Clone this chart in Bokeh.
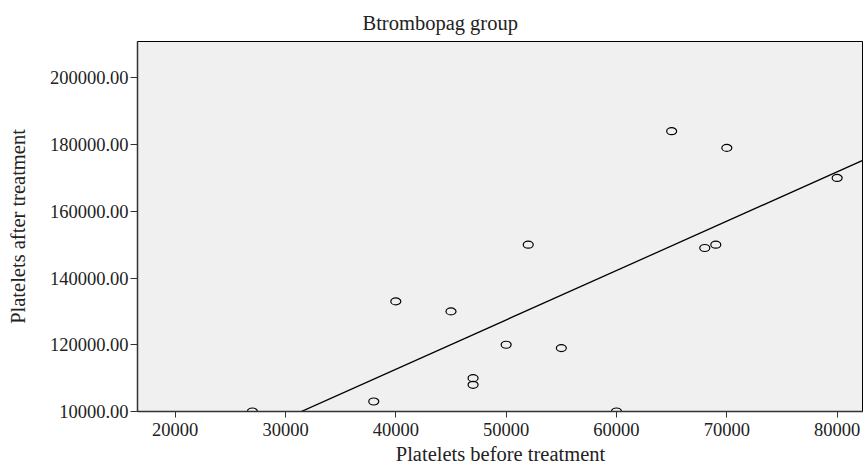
import numpy as np
from bokeh.plotting import figure
from bokeh.models import Range1d, FixedTicker
from bokeh.embed import file_html
from bokeh.resources import INLINE

# Data
before = [27000, 38000, 40000, 45000, 47000, 47000, 50000, 52000, 55000,
          60000, 65000, 68000, 69000, 70000, 80000]
after = [100000, 103000, 133000, 130000, 110000, 108000, 120000, 150000, 119000,
         100000, 184000, 149000, 150000, 179000, 170000]

x_ticks = [20000, 30000, 40000, 50000, 60000, 70000, 80000]
y_ticks = [100000, 120000, 140000, 160000, 180000, 200000]
y_tick_labels = ["10000.00", "120000.00", "140000.00", "160000.00", "180000.00", "200000.00"]

title_text = "Btrombopag group"
x_label = "Platelets before treatment"
y_label = "Platelets after treatment"

FONT = "Liberation Serif"

x0, x1 = 16586, 82387
y0, y1 = 100000, 210885

p = figure(frame_width=726, frame_height=370,
           x_range=Range1d(x0, x1), y_range=Range1d(y0, y1),
           output_backend="svg", toolbar_location=None,
           min_border_left=137, min_border_right=0,
           min_border_top=41, min_border_bottom=53,
           background_fill_color="#f0f0f0", border_fill_color="white")

p.outline_line_color = "black"
p.outline_line_width = 1
p.grid.visible = False

# title
p.title.text = title_text
p.title.align = "left"
p.title.offset = 225
p.title.text_font = FONT
p.title.text_font_size = "20.5px"
p.title.text_font_style = "normal"
p.title.text_color = "#222222"
p.title.standoff = 15

for ax in (p.xaxis[0], p.yaxis[0]):
    ax.axis_line_color = "#333333"
    ax.axis_line_width = 1.5
    ax.major_tick_line_color = "#333333"
    ax.major_tick_in = 0
    ax.minor_tick_line_color = None
    ax.major_label_text_font = FONT
    ax.major_label_text_font_size = "18.5px"
    ax.major_label_text_color = "#222222"
    ax.axis_label_text_font = FONT
    ax.axis_label_text_font_size = "20.5px"
    ax.axis_label_text_font_style = "normal"
    ax.axis_label_text_color = "#222222"

p.xaxis[0].ticker = FixedTicker(ticks=x_ticks)
p.xaxis[0].major_tick_out = 6
p.xaxis[0].major_label_standoff = 5
p.xaxis[0].axis_label = x_label
p.xaxis[0].axis_label_standoff = 4

p.yaxis[0].ticker = FixedTicker(ticks=y_ticks)
p.yaxis[0].major_label_overrides = {t: l for t, l in zip(y_ticks, y_tick_labels)}
p.yaxis[0].major_tick_out = 7
p.yaxis[0].major_label_standoff = 2
p.yaxis[0].axis_label = y_label
p.yaxis[0].axis_label_standoff = 18

# regression line from data
slope, intercept = np.polyfit(before, after, 1)
lx = [x0, x1]
ly = [intercept + slope * v for v in lx]
p.line(lx, ly, line_color="black", line_width=1.3)

p.ellipse(x=before, y=after, width=10, height=7,
          width_units="screen", height_units="screen",
          fill_color=None, line_color="black", line_width=1.2)

open("out.html", "w").write(file_html(p, INLINE))
